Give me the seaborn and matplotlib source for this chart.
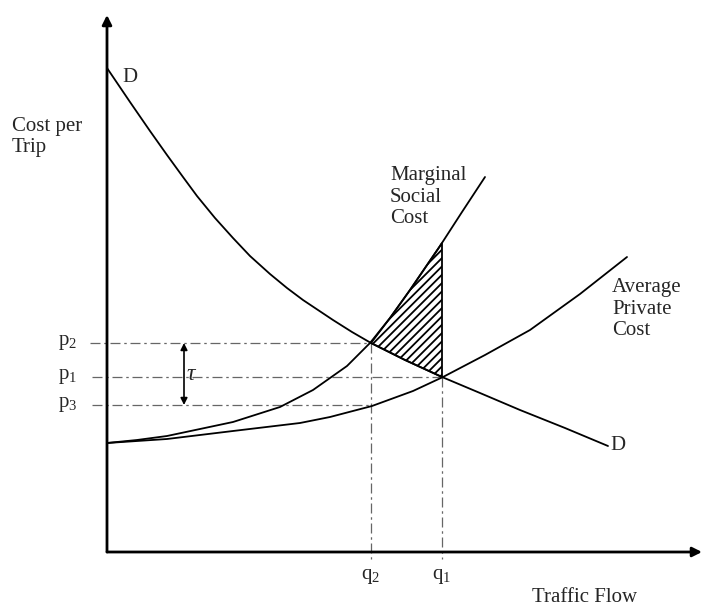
import numpy as np
import matplotlib
matplotlib.use("Agg")
import matplotlib.pyplot as plt
import seaborn as sns

# curve points (x = traffic flow, y = cost per trip)
d_flow = [0, 23, 43, 60, 76, 90, 108, 126, 143, 163, 180, 196, 211, 226, 245, 264,
          298, 335, 373, 413, 458, 501]
d_cost = [484, 450, 421, 397, 375, 356, 334, 314, 296, 278, 264, 252, 242, 232, 220, 209,
          192, 175, 159, 142, 124, 106]

msc_flow = [0, 30, 60, 126, 173, 206, 240, 263, 283, 303, 333, 355, 378]
msc_cost = [109, 112, 116, 130, 145, 162, 186, 209, 234, 262, 306, 340, 375]

apc_flow = [0, 60, 126, 193, 223, 265, 306, 336, 378, 423, 473, 520]
apc_cost = [109, 113, 121, 129, 135, 146, 161, 175, 197, 222, 258, 295]

# equilibrium levels
q2, q1 = 264, 335
p2, p1, p3 = 209, 175, 147

sns.set_style("white")
plt.rcParams["font.family"] = ["Liberation Serif", "DejaVu Serif"]
plt.rcParams["mathtext.fontset"] = "custom"
plt.rcParams["mathtext.rm"] = "Liberation Serif"
plt.rcParams["mathtext.it"] = "Liberation Serif:italic"
plt.rcParams["hatch.linewidth"] = 1.3

fig = plt.figure(figsize=(7.04, 6.08), dpi=100)
ax = fig.add_axes([0, 0, 1, 1])
ax.set_xlim(-107, 597)
ax.set_ylim(-56, 552)
ax.axis("off")

# shaded welfare loss between MSC and D, from q2 to q1
m = [(x, y) for x, y in zip(msc_flow, msc_cost) if q2 <= x <= q1]
dd = [(x, y) for x, y in zip(d_flow, d_cost) if q2 <= x <= q1]
top = [(q2, p2)] + m + [(q1, np.interp(q1, msc_flow, msc_cost))]
bot = [(q1, p1)] + dd[::-1] + [(q2, p2)]
poly = top + bot
ax.fill([p[0] for p in poly], [p[1] for p in poly], facecolor="white",
        edgecolor="black", hatch="////", lw=1.3, zorder=2)

# curves
for fx, fy in [(d_flow, d_cost), (msc_flow, msc_cost), (apc_flow, apc_cost)]:
    sns.lineplot(x=fx, y=fy, color="black", linewidth=1.3, estimator=None, ax=ax, zorder=3)

# dashed guide lines
dash = dict(color="0.4", lw=0.9, linestyle=(0, (8, 3, 2, 3)), zorder=1)
ax.plot([-17, q2], [p2, p2], **dash)
ax.plot([-15, q1], [p1, p1], **dash)
ax.plot([-15, q2], [p3, p3], **dash)
ax.plot([q2, q2], [p2, -7], **dash)
ax.plot([q1, q1], [p1, -7], **dash)

# axes with arrows
arrow = dict(arrowstyle="-|>", lw=2, color="black", mutation_scale=14,
             shrinkA=0, shrinkB=0)
ax.annotate("", xy=(0, 537), xytext=(0, 0), arrowprops=arrow)
ax.annotate("", xy=(595, 0), xytext=(0, 0), arrowprops=arrow)

# tax arrow
ax.annotate("", xy=(77, p2), xytext=(77, p3),
            arrowprops=dict(arrowstyle="<|-|>", lw=1.2, color="black",
                            mutation_scale=10, shrinkA=0, shrinkB=0))
fs = 15
ax.text(85, 178, r"$\tau$", fontsize=17, ha="center", va="center")

# labels
ax.text(-39, p2, "p$_2$", fontsize=fs, ha="center", va="center")
ax.text(-39, p1, "p$_1$", fontsize=fs, ha="center", va="center")
ax.text(-39, p3, "p$_3$", fontsize=fs, ha="center", va="center")
ax.text(q2, -24, "q$_2$", fontsize=fs, ha="center", va="center")
ax.text(q1, -24, "q$_1$", fontsize=fs, ha="center", va="center")
ax.text(478, -45, "Traffic Flow", fontsize=fs, ha="center", va="center")
ax.text(-95, 415, "Cost per\nTrip", fontsize=fs, ha="left", va="center", linespacing=1.15)
ax.text(23, 475, "D", fontsize=fs, ha="center", va="center")
ax.text(511, 106, "D", fontsize=fs, ha="center", va="center")
ax.text(283, 355, "Marginal\nSocial\nCost", fontsize=fs, ha="left", va="center",
        linespacing=1.15)
ax.text(505, 243, "Average\nPrivate\nCost", fontsize=fs, ha="left", va="center",
        linespacing=1.15)

fig.savefig("out.png", dpi=100)
